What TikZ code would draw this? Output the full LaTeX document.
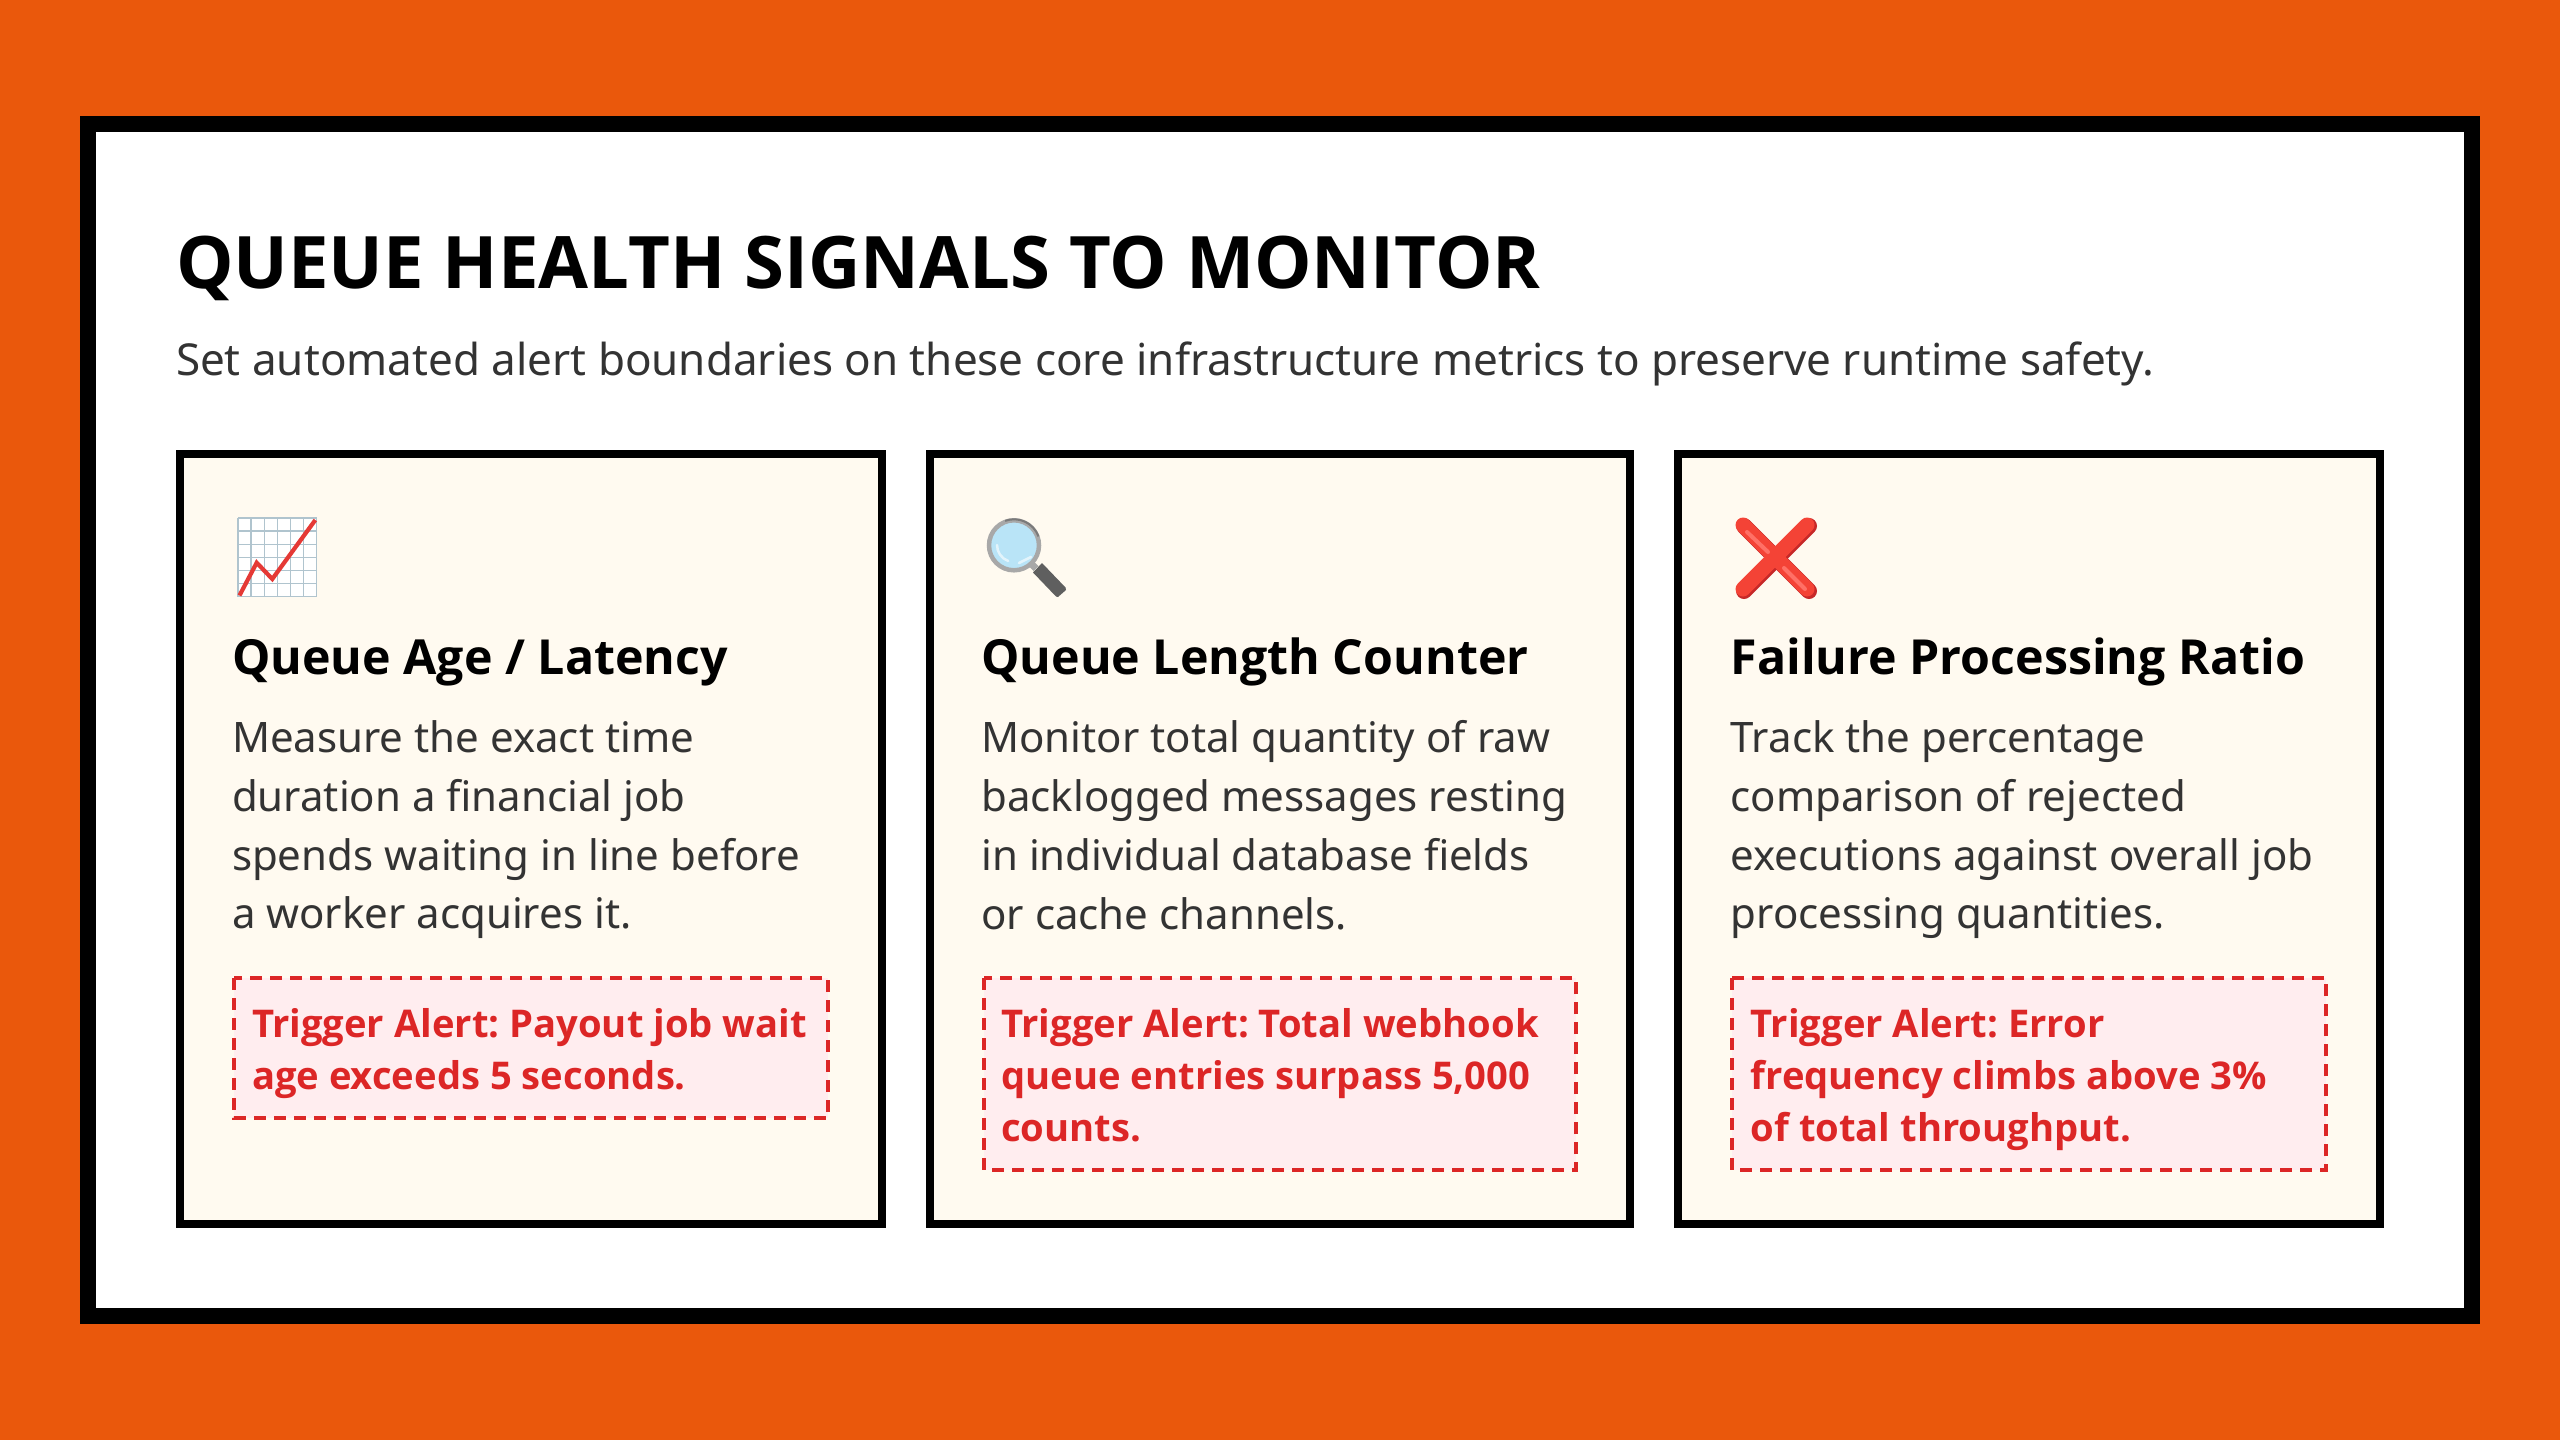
\documentclass[tikz,border=0pt]{standalone}
\usepackage{fontspec}
\setmainfont{Noto Sans}
\newfontfamily\headfont{Open Sans}
\frenchspacing
\definecolor{orangebg}{HTML}{EA580C}
\definecolor{cardfill}{HTML}{FFFAF0}
\definecolor{alertred}{HTML}{DC2626}
\definecolor{alertfill}{HTML}{FFEDEF}
\definecolor{bodyink}{HTML}{333333}
\definecolor{gridline}{HTML}{B0C4CE}
\definecolor{crossred}{HTML}{F44336}
\definecolor{crossdark}{HTML}{C62828}
\definecolor{crosslight}{HTML}{FF7066}
\definecolor{lens}{HTML}{B9E4F7}
\definecolor{handle}{HTML}{5F5F5F}
\definecolor{ringgray}{HTML}{A8A8A8}
\definecolor{ringdark}{HTML}{7A7A7A}
\definecolor{chartred}{HTML}{E53935}
\tikzset{
  x=1pt,y=-1pt,
  txt/.style={inner sep=0pt,outer sep=0pt,anchor=north west,align=left},
  oneline/.style={inner sep=0pt,outer sep=0pt,anchor=base west},
  cardbox/.style={draw=black,line width=8pt,fill=cardfill},
  cardhead/.style={oneline,font=\fontsize{48.3}{56}\selectfont\headfont\bfseries,text=black},
  cardbody/.style={txt,font=\fontsize{42}{58.7}\selectfont,text=bodyink},
  alertbox/.style={draw=alertred,line width=4pt,dash pattern=on 12pt off 8pt,fill=alertfill},
  alerttext/.style={txt,font=\fontsize{38.2}{52}\selectfont\headfont\bfseries,text=alertred},
}
\begin{document}
\begin{tikzpicture}
\useasboundingbox (0,0) rectangle (2560,1440);
\fill[orangebg] (0,0) rectangle (2560,1440);
\draw[black,line width=16pt,fill=white] (88,124) rectangle (2472,1316);
\node[oneline,font=\fontsize{72.4}{80}\selectfont\headfont\bfseries,text=black] (title) at (176,288) {QUEUE HEALTH SIGNALS TO MONITOR};
\node[oneline,font=\fontsize{44}{52}\selectfont,text=bodyink] (subtitle) at (176,375.5) {Set automated alert boundaries on these core infrastructure metrics to preserve runtime safety.};
% cards
\draw[cardbox] (180,454) rectangle (882,1224);
\draw[cardbox] (930,454) rectangle (1630,1224);
\draw[cardbox] (1678,454) rectangle (2380,1224);
% headings
\node[cardhead] (h1) at (232,674) {Queue Age / Latency};
\node[cardhead] (h2) at (981.33,674) {Queue Length Counter};
\node[cardhead] (h3) at (1730.67,674) {Failure Processing Ratio};
% bodies
\node[cardbody] (b1) at (232,720.8) {Measure the exact time\\duration a financial job\\spends waiting in line before\\a worker acquires it.};
\node[cardbody] (b2) at (981.33,720.8) {Monitor total quantity of raw\\backlogged messages resting\\in individual database fields\\or cache channels.};
\node[cardbody] (b3) at (1730.67,720.8) {Track the percentage\\comparison of rejected\\executions against overall job\\processing quantities.};
% alerts
\draw[alertbox] (234,978) rectangle (828,1118);
\draw[alertbox] (984,978) rectangle (1576,1170);
\draw[alertbox] (1732,978) rectangle (2326,1170);
\node[alerttext] (a1) at (252,1008) {Trigger Alert: Payout job wait\\age exceeds 5 seconds.};
\node[alerttext] (a2) at (1001.33,1008) {Trigger Alert: Total webhook\\queue entries surpass 5,000\\counts.};
\node[alerttext] (a3) at (1750.67,1008) {Trigger Alert: Error\\frequency climbs above 3\%\\of total throughput.};
% chart icon
\fill[white] (238,518) rectangle (316.7,597);
\foreach \i in {0,...,6}{
  \draw[gridline,line width=1.4pt] ({238+\i*13.1},518) -- ({238+\i*13.1},597);
  \draw[gridline,line width=1.4pt] (238,{518+\i*13.1}) -- (316.7,{518+\i*13.1});
}
\draw[draw=chartred,line width=4.2pt] (239.5,595.5) -- (256.7,562.7) -- (272.3,579) -- (315.3,520);
% magnifier icon
\fill[handle] (1033,572.5) -- (1042,563) -- (1065.5,587.5) -- (1066,590) -- (1058,597) -- (1056,596.5) -- cycle;
\draw[ringgray,line width=7pt] (1031,563.5) -- (1036,568.5);
\fill[lens] (1014,545.3) circle (25);
\draw[ringgray,line width=4.5pt] (1014,545.3) circle (25);
\draw[ringdark,line width=2pt] (1014,545.3) ++(-20:26) arc[start angle=-20,end angle=-110,radius=26];
\draw[white,line width=2.5pt,opacity=.6,line cap=round] (997,545) arc[start angle=180,end angle=110,radius=17];
\draw[white,line width=2.5pt,opacity=.6,line cap=round] (1019,563) -- (1031,557);
% cross icon
\draw[crossdark,line width=16pt,line cap=round] (1744,526) -- (1809,591);
\draw[crossdark,line width=16pt,line cap=round] (1809,526) -- (1744,591);
\draw[crossred,line width=15pt,line cap=round] (1743,525) -- (1807,589);
\draw[crossred,line width=15pt,line cap=round] (1807,525) -- (1743,589);
\draw[crosslight,line width=4pt,line cap=round] (1747,532) -- (1768,552);
\draw[crosslight,line width=4pt,line cap=round] (1784,568) -- (1805,589);
\end{tikzpicture}
\end{document}
